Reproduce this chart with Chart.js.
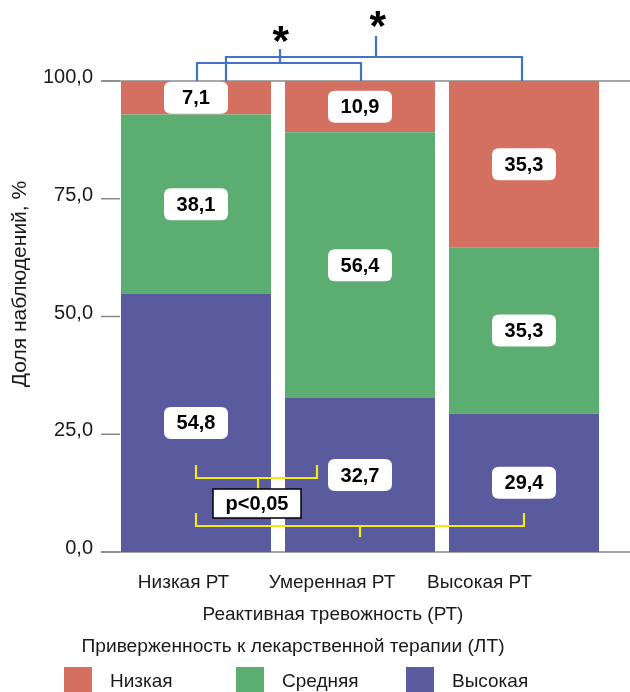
<!DOCTYPE html>
<html>
<head>
<meta charset="utf-8">
<script src="https://cdn.jsdelivr.net/npm/chart.js@4/dist/chart.umd.min.js"></script>
<style>
  html, body { margin: 0; padding: 0; background: #fff; }
  #wrap { width: 630px; height: 692px; position: relative; }
  canvas { display: block; }
</style>
</head>
<body>
<div id="wrap"><canvas id="chart" width="630" height="692"></canvas></div>
<script>
// Reactive anxiety groups (x categories)
const categories = ['Низкая РТ', 'Умеренная РТ', 'Высокая РТ'];
// Adherence levels, stacked bottom → top
const adherenceNames = ['Высокая', 'Средняя', 'Низкая'];
const highAdherence = [54.8, 32.7, 29.4];
const midAdherence  = [38.1, 56.4, 35.3];
const lowAdherence  = [7.1, 10.9, 35.3];
const yTickValues = [0, 25, 50, 75, 100];

const xTitle = 'Реактивная тревожность (РТ)';
const yTitle = 'Доля наблюдений, %';
const legendTitle = 'Приверженность к лекарственной терапии (ЛТ)';
const pLabel = 'p<0,05';
const starLabel = '*';

const COLORS = { 'Высокая': '#5A5A9E', 'Средняя': '#5BAD72', 'Низкая': '#D3705F' };
const FONT = '"Liberation Sans", Arial, sans-serif';
const TEXT = '#1a1a1a';

const fmt = v => v.toFixed(1).replace('.', ',');

const seriesValues = [highAdherence, midAdherence, lowAdherence];

const datasets = adherenceNames.map((name, i) => ({
  label: name,
  data: seriesValues[i],
  backgroundColor: COLORS[name],
  borderWidth: 0,
  categoryPercentage: 1.0,
  barPercentage: 0.915
}));

function line(ctx, pts) {
  ctx.beginPath();
  ctx.moveTo(pts[0][0], pts[0][1]);
  for (let i = 1; i < pts.length; i++) ctx.lineTo(pts[i][0], pts[i][1]);
  ctx.stroke();
}

function roundRect(ctx, x, y, w, h, r) {
  ctx.beginPath();
  ctx.moveTo(x + r, y);
  ctx.lineTo(x + w - r, y);
  ctx.quadraticCurveTo(x + w, y, x + w, y + r);
  ctx.lineTo(x + w, y + h - r);
  ctx.quadraticCurveTo(x + w, y + h, x + w - r, y + h);
  ctx.lineTo(x + r, y + h);
  ctx.quadraticCurveTo(x, y + h, x, y + h - r);
  ctx.lineTo(x, y + r);
  ctx.quadraticCurveTo(x, y, x + r, y);
  ctx.closePath();
}

// Draw a glyph so that its ink box is centred on (cx, cy) with the given ink height
function drawGlyphCentered(ctx, ch, cx, cy, inkHeight) {
  ctx.font = 'bold 40px ' + FONT;
  let m = ctx.measureText(ch);
  const h40 = m.actualBoundingBoxAscent + m.actualBoundingBoxDescent;
  const size = 40 * inkHeight / h40;
  ctx.font = 'bold ' + size + 'px ' + FONT;
  m = ctx.measureText(ch);
  ctx.textAlign = 'left';
  ctx.textBaseline = 'alphabetic';
  const left = cx - (m.actualBoundingBoxRight - m.actualBoundingBoxLeft) / 2 + m.actualBoundingBoxLeft;
  const base = cy + (m.actualBoundingBoxAscent - m.actualBoundingBoxDescent) / 2;
  ctx.fillText(ch, left, base);
}

// Baseline/top rules and y tick marks, under the bars
const axisLines = {
  id: 'axisLines',
  beforeDatasetsDraw(chart) {
    const { ctx, scales: { y } } = chart;
    ctx.save();
    ctx.strokeStyle = '#888888';
    ctx.lineWidth = 1.5;
    const y0 = y.getPixelForValue(0), y100 = y.getPixelForValue(100);
    line(ctx, [[101, y0], [630, y0]]);
    line(ctx, [[101, y100], [630, y100]]);
    yTickValues.forEach(v => {
      const py = y.getPixelForValue(v);
      line(ctx, [[101, py], [120, py]]);
    });
    ctx.restore();
  }
};

// White value badges centered on each segment
const valueBadges = {
  id: 'valueBadges',
  afterDatasetsDraw(chart) {
    const { ctx } = chart;
    ctx.save();
    ctx.font = 'bold 20px ' + FONT;
    ctx.textAlign = 'center';
    ctx.textBaseline = 'middle';
    chart.data.datasets.forEach((ds, di) => {
      const meta = chart.getDatasetMeta(di);
      meta.data.forEach((bar, i) => {
        const cx = bar.x;
        const cy = (bar.y + bar.base) / 2;
        const w = 64, h = 32;
        ctx.fillStyle = '#ffffff';
        roundRect(ctx, cx - w / 2, cy - h / 2, w, h, 7);
        ctx.fill();
        ctx.fillStyle = '#000000';
        ctx.fillText(fmt(ds.data[i]), cx, cy + 1);
      });
    });
    ctx.restore();
  }
};

// Significance brackets, titles and legend
const decorations = {
  id: 'decorations',
  afterDraw(chart) {
    const { ctx, scales: { x, y } } = chart;
    const c0 = x.getPixelForValue(0), c1 = x.getPixelForValue(1), c2 = x.getPixelForValue(2);
    const top = y.getPixelForValue(100);
    ctx.save();

    // blue brackets (top)
    ctx.strokeStyle = '#4472C4';
    ctx.lineWidth = 2.2;
    ctx.lineJoin = 'miter';
    let l = c0 + 1, r = c1 + 1, h = 63;
    const s1 = 280;
    line(ctx, [[l, top], [l, h], [r, h], [r, top]]);
    line(ctx, [[s1, h], [s1, 49]]);
    l = c0 + 30; r = c2 - 2; h = 57;
    const s2 = 376;
    line(ctx, [[l, top], [l, h], [r, h], [r, top]]);
    line(ctx, [[s2, h], [s2, 36]]);

    ctx.fillStyle = '#000000';
    drawGlyphCentered(ctx, starLabel, 281, 33.5, 17);
    drawGlyphCentered(ctx, starLabel, 378, 19, 17);

    // yellow brackets (bottom)
    ctx.strokeStyle = '#F2EA10';
    ctx.lineWidth = 2.2;
    l = c0; r = c1 - 43;
    line(ctx, [[l, 465], [l, 478], [r, 478], [r, 465]]);
    line(ctx, [[258, 478], [258, 489]]);
    l = c0; r = c2;
    line(ctx, [[l, 513], [l, 526], [r, 526], [r, 513]]);
    line(ctx, [[(l + r) / 2, 526], [(l + r) / 2, 537]]);

    // p-value box
    ctx.fillStyle = '#ffffff';
    ctx.fillRect(213, 489, 88, 29);
    ctx.strokeStyle = '#000000';
    ctx.lineWidth = 1.5;
    ctx.strokeRect(213, 489, 88, 29);
    ctx.fillStyle = '#000000';
    ctx.font = 'bold 20px ' + FONT;
    ctx.textAlign = 'center';
    ctx.textBaseline = 'middle';
    ctx.fillText(pLabel, 257, 504);

    // category labels
    ctx.font = '19px ' + FONT;
    ctx.fillStyle = TEXT;
    ctx.textBaseline = 'alphabetic';
    const catX = [183.5, 332, 479.5];
    categories.forEach((c, i) => ctx.fillText(c, catX[i], 588));

    // axis titles
    ctx.fillText(xTitle, 333, 620);
    ctx.font = '19.2px ' + FONT;
    ctx.fillText(legendTitle, 293, 652);

    ctx.save();
    ctx.font = '21px ' + FONT;
    ctx.translate(26, 284);
    ctx.rotate(-Math.PI / 2);
    ctx.textAlign = 'center';
    ctx.fillText(yTitle, 0, 0);
    ctx.restore();

    // legend
    ctx.font = '19px ' + FONT;
    const legendOrder = ['Низкая', 'Средняя', 'Высокая'];
    const boxX = [64, 236, 406];
    const txtX = [110, 282, 452];
    ctx.textAlign = 'left';
    legendOrder.forEach((name, i) => {
      ctx.fillStyle = COLORS[name];
      ctx.fillRect(boxX[i], 667, 28, 25);
      ctx.fillStyle = TEXT;
      ctx.fillText(name, txtX[i], 687);
    });

    ctx.restore();
  }
};

new Chart(document.getElementById('chart'), {
  type: 'bar',
  data: { labels: categories, datasets },
  options: {
    responsive: false,
    animation: false,
    devicePixelRatio: 1,
    layout: { padding: { left: 0, top: 81, right: 24, bottom: 140 } },
    plugins: { legend: { display: false }, tooltip: { enabled: false } },
    scales: {
      x: { stacked: true, display: false },
      y: {
        stacked: true,
        min: 0,
        max: 100,
        afterFit(scale) { scale.width = 114; },
        afterBuildTicks(scale) { scale.ticks = yTickValues.map(v => ({ value: v })); },
        grid: { display: false, drawTicks: false },
        border: { display: false },
        ticks: {
          padding: 21,
          labelOffset: -3.5,
          color: TEXT,
          font: { family: FONT, size: 20 },
          callback: v => fmt(v)
        }
      }
    }
  },
  plugins: [axisLines, valueBadges, decorations]
});
</script>
</body>
</html>
